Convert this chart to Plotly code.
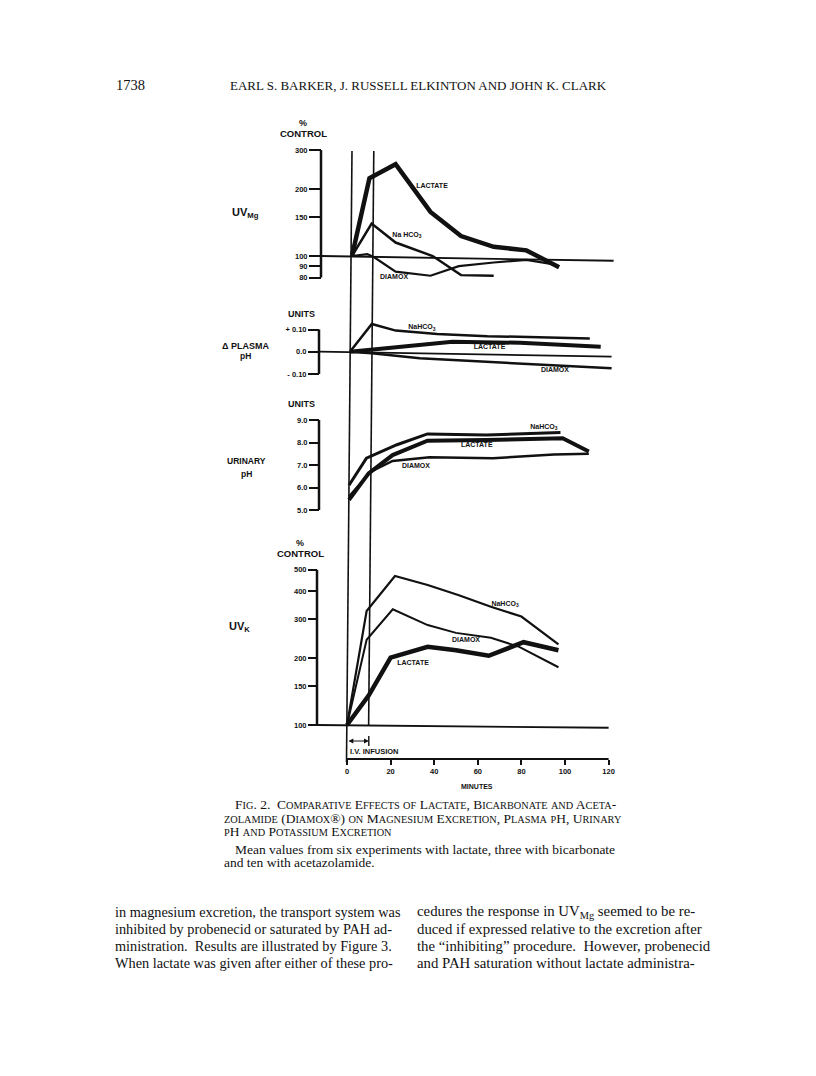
import math
import re
import plotly.graph_objects as go

# page is 816 x 1076; the html body adds an 8px margin, so the figure is
# drawn 16px smaller and every page position is shifted by OFF
W, H = 816, 1076
OFF = 8
FIG_W, FIG_H = W - 2 * OFF, H - 2 * OFF
SANS = "Liberation Sans"
SERIF = "Liberation Serif"
INK = "#111111"

# ---------------- data (minutes after start of infusion) ----------------
INFUSION = [0, 10]
MINUTE_TICKS = [0, 20, 40, 60, 80, 100, 120]

# UV Mg, % of control
MG_LACTATE_T = [0, 8, 20, 36, 50, 65, 80, 95]
MG_LACTATE = [100, 224, 259, 158, 123, 110, 106, 89]
MG_NAHCO3_T = [0, 9, 20, 37, 50, 65]
MG_NAHCO3 = [100, 140, 115, 100, 82, 81.5]
MG_DIAMOX_T = [0, 7, 10, 20, 36, 49, 65, 80, 92]
MG_DIAMOX = [100, 102, 99, 85, 81.5, 90, 93.5, 96, 92]
MG_BASE_T = [-14, 120]
MG_BASE = [100, 95.2]
MG_TICKS = [80, 90, 100, 150, 200, 300]

# delta plasma pH, units
PL_NAHCO3_T = [0, 10, 21, 40, 63, 110]
PL_NAHCO3 = [0, 0.125, 0.095, 0.08, 0.07, 0.06]
PL_LACTATE_T = [0, 10, 47, 78, 115]
PL_LACTATE = [0, 0.01, 0.045, 0.04, 0.022]
PL_DIAMOX_T = [0, 10, 32, 78, 120]
PL_DIAMOX = [0, -0.007, -0.03, -0.052, -0.075]
PL_BASE_T = [-14, 120]
PL_BASE = [0, -0.022]
PL_TICKS = [-0.10, 0.0, 0.10]
PL_TICKTEXT = ["- 0.10", "0.0", "+ 0.10"]

# urinary pH, units
UR_NAHCO3_T = [0, 8, 22, 36, 63, 97]
UR_NAHCO3 = [6.1, 7.3, 7.9, 8.38, 8.33, 8.45]
UR_LACTATE_T = [0, 9, 20, 36, 63, 98, 110]
UR_LACTATE = [5.45, 6.63, 7.44, 8.08, 8.11, 8.19, 7.6]
UR_DIAMOX_T = [0, 10, 20, 37, 66, 94, 110]
UR_DIAMOX = [5.6, 6.7, 7.18, 7.34, 7.3, 7.47, 7.5]
UR_TICKS = [5, 6, 7, 8, 9]
UR_TICKTEXT = ["5.0", "6.0", "7.0", "8.0", "9.0"]

# UV K, % of control
K_NAHCO3_T = [0, 9, 22, 37, 51, 66, 80, 97]
K_NAHCO3 = [100, 326, 469, 427, 385, 341, 308, 231]
K_DIAMOX_T = [0, 9, 21, 37, 50, 66, 79, 97]
K_DIAMOX = [100, 242, 332, 282, 260, 247, 225, 182]
K_LACTATE_T = [0, 10, 20, 37, 50, 65, 81, 97]
K_LACTATE = [100, 136, 201, 225, 217, 205, 236, 217]
K_BASE_T = [-14, 120]
K_BASE = [100, 97.2]
K_TICKS = [100, 150, 200, 300, 400, 500]


def px(x):
    return (x - OFF) / FIG_W


def py(y):
    return 1 - (y - OFF) / FIG_H


PX_PER_MIN = 2.18


def x_axis(x0, visible=False):
    lo, hi = -30, 126
    return dict(domain=[px(x0 + lo * PX_PER_MIN), px(x0 + hi * PX_PER_MIN)],
                range=[lo, hi], visible=visible, showgrid=False, zeroline=False,
                showline=False)


def y_axis(top, bottom, ref_px, ref_val, per_unit, axis_px, ticks, ticktext,
           ticklen, log=False):
    ref = math.log10(ref_val) if log else ref_val
    val = lambda p: ref + (ref_px - p) / per_unit
    return dict(domain=[py(bottom), py(top)], range=[val(bottom), val(top)],
                type="log" if log else "linear", anchor="free",
                position=px(axis_px), side="left", showline=False,
                showgrid=False, zeroline=False, ticks="outside",
                ticklen=ticklen, tickwidth=2, tickcolor=INK,
                tickvals=ticks, ticktext=ticktext,
                tickfont=dict(family=SANS, size=7.5, color=INK, weight="bold"))


fig = go.Figure()


def line(t, v, xa, ya, width):
    fig.add_trace(go.Scatter(x=t, y=v, xaxis=xa, yaxis=ya, mode="lines",
                             line=dict(color=INK, width=width),
                             showlegend=False, hoverinfo="skip"))


def tag(t, v, xa, ya, text):
    fig.add_trace(go.Scatter(x=[t], y=[v], xaxis=xa, yaxis=ya, mode="text",
                             text=[text], cliponaxis=False,
                             textfont=dict(family=SANS, size=7, color=INK,
                                           weight="bold"),
                             showlegend=False, hoverinfo="skip"))


# UV Mg  (x2, y2)
line(MG_BASE_T, MG_BASE, "x2", "y2", 1.8)
line(MG_DIAMOX_T, MG_DIAMOX, "x2", "y2", 2.2)
line(MG_NAHCO3_T, MG_NAHCO3, "x2", "y2", 2.5)
line(MG_LACTATE_T, MG_LACTATE, "x2", "y2", 4.5)
tag(36.7, 207, "x2", "y2", "LACTATE")
tag(25.2, 124, "x2", "y2", "Na HCO<sub>3</sub>")
tag(19.3, 80.4, "x2", "y2", "DIAMOX")

# plasma pH  (x3, y3)
line(PL_BASE_T, PL_BASE, "x3", "y3", 1.8)
line(PL_DIAMOX_T, PL_DIAMOX, "x3", "y3", 2.5)
line(PL_NAHCO3_T, PL_NAHCO3, "x3", "y3", 2.5)
line(PL_LACTATE_T, PL_LACTATE, "x3", "y3", 4)
tag(33, 0.11, "x3", "y3", "NaHCO<sub>3</sub>")
tag(64, 0.018, "x3", "y3", "LACTATE")
tag(94, -0.082, "x3", "y3", "DIAMOX")

# urinary pH  (x4, y4)
line(UR_DIAMOX_T, UR_DIAMOX, "x4", "y4", 2.5)
line(UR_NAHCO3_T, UR_NAHCO3, "x4", "y4", 3)
line(UR_LACTATE_T, UR_LACTATE, "x4", "y4", 4)
tag(89.4, 8.7, "x4", "y4", "NaHCO<sub>3</sub>")
tag(58.6, 7.89, "x4", "y4", "LACTATE")
tag(30.7, 6.96, "x4", "y4", "DIAMOX")

# UV K  (x, y)
line(K_BASE_T, K_BASE, "x", "y", 1.8)
line(K_NAHCO3_T, K_NAHCO3, "x", "y", 2.2)
line(K_DIAMOX_T, K_DIAMOX, "x", "y", 2.0)
line(K_LACTATE_T, K_LACTATE, "x", "y", 4.5)
tag(72.5, 350, "x", "y", "NaHCO<sub>3</sub>")
tag(54.6, 241, "x", "y", "DIAMOX")
tag(30.3, 189, "x", "y", "LACTATE")

shapes = []
# bracket-style vertical axes
for yref, lo, hi, axis_px in [("y2", 80, 300, 321), ("y3", -0.10, 0.10, 319),
                              ("y4", 5, 9, 319), ("y", 100, 500, 317)]:
    shapes.append(dict(type="line", xref="paper", yref=yref, x0=px(axis_px),
                       x1=px(axis_px), y0=lo, y1=hi,
                       line=dict(color=INK, width=2.5)))

# minutes axis line
shapes.append(dict(type="line", xref="x", yref="paper", x0=MINUTE_TICKS[0],
                   x1=MINUTE_TICKS[-1], y0=py(759), y1=py(759),
                   line=dict(color=INK, width=2)))


# start / end of infusion (page is scanned slightly rotated)
def skew_x(t, y):
    x0 = 352 - (y - 150) * 5.5 / 612
    return px(x0 + t * PX_PER_MIN)


for t, bottom in zip(INFUSION, [762, 725]):
    shapes.append(dict(type="line", xref="paper", yref="paper",
                       x0=skew_x(t, 151), y0=py(151), x1=skew_x(t, bottom),
                       y1=py(bottom), line=dict(color=INK, width=1.6)))
shapes.append(dict(type="line", xref="x", yref="paper", x0=INFUSION[1],
                   x1=INFUSION[1], y0=py(736), y1=py(746),
                   line=dict(color=INK, width=1.4)))

annotations = [dict(x=INFUSION[1], y=py(741), xref="x", yref="paper",
                    ax=INFUSION[0], ay=0, axref="x", ayref="pixel", text="",
                    showarrow=True, arrowside="end+start", arrowhead=2,
                    arrowsize=0.8, arrowwidth=1.2, arrowcolor=INK)]


def note(x, y, text, size=8, family=SANS, anchor="center", bold=True):
    annotations.append(dict(x=px(x), y=py(y), xref="paper", yref="paper",
                            text=text, showarrow=False, xanchor=anchor,
                            yanchor="middle",
                            font=dict(family=family, size=size, color=INK,
                                      weight="bold" if bold else "normal")))


# panel labels
note(303, 123, "%", 9)
note(303, 134, "CONTROL", 9.5)
note(245, 213, "UV<sub>Mg</sub>", 11)
note(301, 314, "UNITS", 9)
note(245, 346, "Δ PLASMA", 9)
note(245, 356, "pH", 8.5)
note(246, 461, "URINARY", 8.5)
note(246, 474, "pH", 8.5)
note(300, 543, "%", 9)
note(300, 553, "CONTROL", 9.5)
note(301, 404, "UNITS", 9)
note(240, 627, "UV<sub>K</sub>", 11)
note(348, 751, "I.V. INFUSION", 7.5, anchor="left")
note(477, 786, "MINUTES", 7)


def small_caps(s, small):
    return re.sub(r"[a-z]+", lambda m: '<span style="font-size:%spx">%s</span>'
                  % (small, m.group(0).upper()), s)


# page text
note(114, 85, "1738", 14.5, SERIF, "left", False)
note(228, 86, "EARL S. BARKER, J. RUSSELL ELKINTON AND JOHN K. CLARK", 13,
     SERIF, "left", False)

CAPTION = [(233, 804, "Fig. 2.  Comparative Effects of Lactate, Bicarbonate and Aceta-"),
           (222, 818, "zolamide (Diamox®) on Magnesium Excretion, Plasma pH, Urinary"),
           (222, 831, "pH and Potassium Excretion")]
for x, y, s in CAPTION:
    note(x, y, small_caps(s, 10.3), 13.5, SERIF, "left", False)
note(233, 849, "Mean values from six experiments with lactate, three with bicarbonate",
     13.5, SERIF, "left", False)
note(222, 862, "and ten with acetazolamide.", 13.5, SERIF, "left", False)

BODY_LEFT = ["in magnesium excretion, the transport system was",
             "inhibited by probenecid or saturated by PAH ad-",
             "ministration.  Results are illustrated by Figure 3.",
             "When lactate was given after either of these pro-"]
BODY_RIGHT = ["cedures the response in UV<sub>Mg</sub> seemed to be re-",
              "duced if expressed relative to the excretion after",
              "the “inhibiting” procedure.  However, probenecid",
              "and PAH saturation without lactate administra-"]
for i, (a, b) in enumerate(zip(BODY_LEFT, BODY_RIGHT)):
    note(113, 912 + 17 * i, a, 14.3, SERIF, "left", False)
    note(415, 912 + 17 * i, b, 14.8, SERIF, "left", False)

fig.update_layout(
    width=FIG_W, height=FIG_H, margin=dict(l=0, r=0, t=0, b=0),
    paper_bgcolor="white", plot_bgcolor="rgba(0,0,0,0)", showlegend=False,
    xaxis=dict(x_axis(347, True), anchor="free", position=py(759),
               ticks="outside", ticklen=5, tickwidth=2, tickcolor=INK,
               tickvals=MINUTE_TICKS, showticklabels=True,
               tickfont=dict(family=SANS, size=7.5, color=INK, weight="bold")),
    xaxis2=x_axis(352), xaxis3=x_axis(350), xaxis4=x_axis(349),
    yaxis=y_axis(555, 750, 725, 100, 222, 317, K_TICKS,
                 [str(v) for v in K_TICKS], 9, log=True),
    yaxis2=y_axis(140, 292, 256, 100, 222, 321, MG_TICKS,
                  [str(v) for v in MG_TICKS], 12, log=True),
    yaxis3=y_axis(300, 395, 351.7, 0.0, 222, 319, PL_TICKS, PL_TICKTEXT, 11),
    yaxis4=y_axis(405, 525, 420, 9.0, 22.5, 319, UR_TICKS, UR_TICKTEXT, 10),
    shapes=shapes, annotations=annotations,
)

fig.write_html("out.html")
